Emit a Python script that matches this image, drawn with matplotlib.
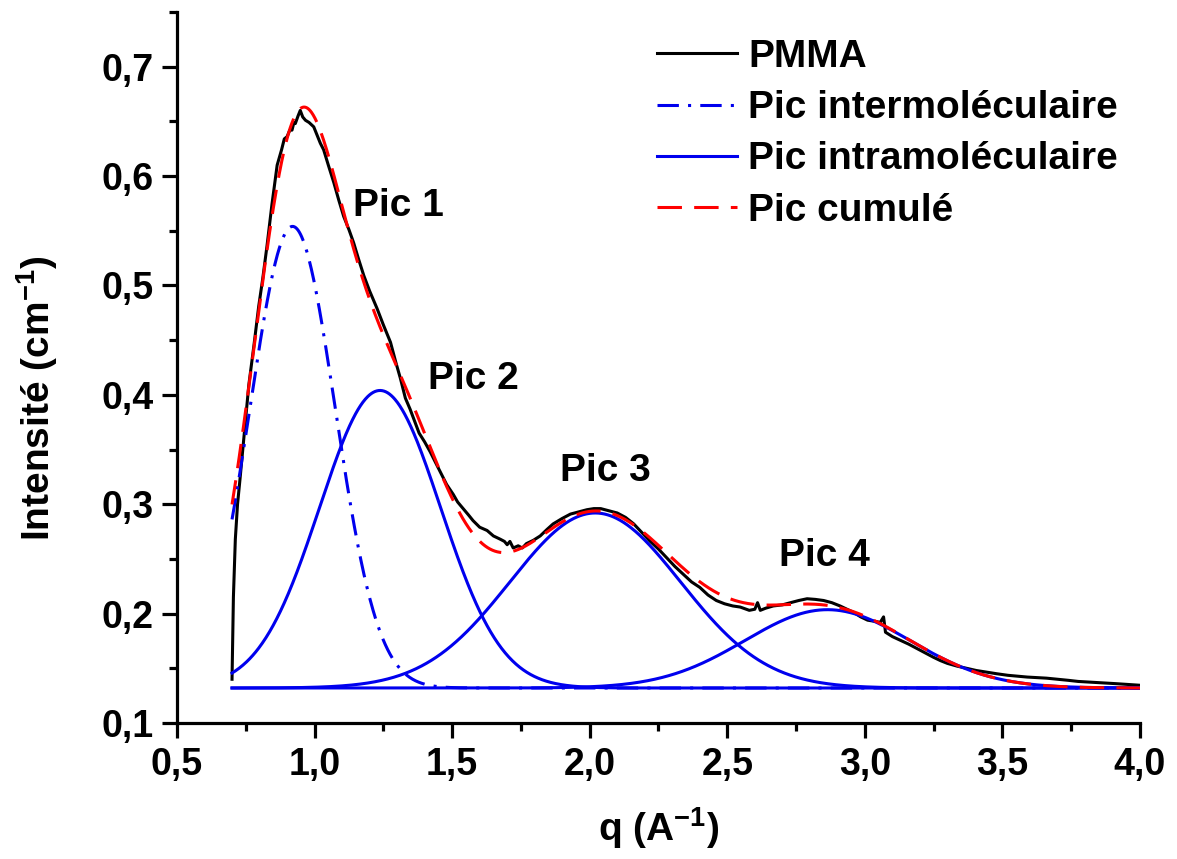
import numpy as np
import matplotlib
matplotlib.use("Agg")
import matplotlib.pyplot as plt
from matplotlib.ticker import MultipleLocator, FuncFormatter

plt.rcParams['font.family'] = ['Liberation Sans', 'DejaVu Sans']
plt.rcParams['font.weight'] = 'bold'
plt.rcParams['mathtext.fontset'] = 'custom'
plt.rcParams['mathtext.rm'] = 'Liberation Sans:bold'
plt.rcParams['mathtext.default'] = 'rm'

# ---- Data ----
# PMMA measured curve (q in A^-1, intensity in cm^-1)
pmma_q = [0.700, 0.705, 0.712, 0.720, 0.729, 0.745, 0.761, 0.780, 0.797, 0.812,
          0.827, 0.845, 0.864, 0.880, 0.890, 0.900, 0.910, 0.918, 0.925, 0.930,
          0.940, 0.948, 0.957, 0.967, 0.980, 0.997, 1.010, 1.021, 1.033, 1.050,
          1.070, 1.088, 1.106, 1.125, 1.142, 1.160, 1.179, 1.200, 1.227, 1.250,
          1.276, 1.295, 1.312, 1.330, 1.347, 1.365, 1.380, 1.400, 1.420, 1.440,
          1.456, 1.480, 1.504, 1.520, 1.540, 1.560, 1.576, 1.600, 1.627, 1.650,
          1.675, 1.690, 1.700, 1.710, 1.722, 1.740, 1.755, 1.770, 1.795, 1.820,
          1.845, 1.867, 1.900, 1.930, 1.960, 1.990, 2.015, 2.040, 2.070, 2.100,
          2.130, 2.160, 2.190, 2.220, 2.250, 2.280, 2.310, 2.340, 2.370, 2.400,
          2.430, 2.460, 2.490, 2.520, 2.547, 2.580, 2.600, 2.610, 2.620, 2.640,
          2.667, 2.700, 2.730, 2.760, 2.790, 2.820, 2.850, 2.880, 2.910, 2.935,
          2.960, 2.985, 3.010, 3.035, 3.056, 3.068, 3.075, 3.100, 3.130, 3.160,
          3.190, 3.220, 3.250, 3.275, 3.300, 3.335, 3.370, 3.405, 3.445, 3.480,
          3.520, 3.555, 3.590, 3.625, 3.660, 3.700, 3.740, 3.775, 3.810, 3.850,
          3.880, 3.910, 3.940, 3.970, 4.000]
pmma_i = [0.140, 0.215, 0.268, 0.300, 0.323, 0.366, 0.409, 0.446, 0.481, 0.507,
          0.536, 0.574, 0.610, 0.624, 0.634, 0.636, 0.642, 0.642, 0.649, 0.648,
          0.655, 0.660, 0.654, 0.651, 0.649, 0.645, 0.637, 0.630, 0.624, 0.610,
          0.594, 0.578, 0.563, 0.551, 0.539, 0.524, 0.509, 0.495, 0.479, 0.464,
          0.448, 0.430, 0.415, 0.397, 0.387, 0.375, 0.365, 0.357, 0.348, 0.338,
          0.330, 0.318, 0.309, 0.302, 0.296, 0.290, 0.285, 0.279, 0.276, 0.271,
          0.268, 0.266, 0.263, 0.266, 0.260, 0.262, 0.260, 0.264, 0.267, 0.271,
          0.277, 0.282, 0.287, 0.291, 0.293, 0.295, 0.296, 0.296, 0.294, 0.292,
          0.288, 0.282, 0.274, 0.266, 0.259, 0.251, 0.243, 0.236, 0.229, 0.224,
          0.217, 0.212, 0.209, 0.207, 0.206, 0.203, 0.204, 0.210, 0.203, 0.205,
          0.207, 0.208, 0.210, 0.212, 0.2136, 0.213, 0.212, 0.210, 0.207, 0.204,
          0.201, 0.197, 0.194, 0.193, 0.192, 0.197, 0.183, 0.179, 0.1755, 0.172,
          0.168, 0.164, 0.160, 0.157, 0.1545, 0.152, 0.150, 0.148, 0.1464, 0.145,
          0.1436, 0.1428, 0.142, 0.1415, 0.141, 0.140, 0.139, 0.138, 0.1375, 0.137,
          0.1364, 0.136, 0.1355, 0.135, 0.1345]

# Fitted peaks (Gaussian components)
baseline = 0.132
peak_names = ["Pic 1", "Pic 2", "Pic 3", "Pic 4"]
peak_centers = [0.920, 1.238, 2.02, 2.864]
peak_heights = [0.422, 0.272, 0.160, 0.0716]   # above baseline
peak_widths = [0.155, 0.220, 0.310, 0.300]     # Gaussian sigma
fit_range = [0.70, 4.00]

# Peak label positions (q, intensity of text baseline)
label_q = [1.304, 1.576, 2.056, 2.853]
label_i = [0.5636, 0.405, 0.321, 0.2436]

legend_labels = ["PMMA", "Pic intermoléculaire", "Pic intramoléculaire", "Pic cumulé"]

# ---- Figure ----
fig = plt.figure(figsize=(11.77, 8.59), dpi=100)
ax = fig.add_axes([177/1177, 1 - 723/859, 963/1177, 711/859])

q = np.linspace(fit_range[0], fit_range[1], 1500)
comps = [h * np.exp(-(q - c) ** 2 / (2 * s ** 2))
         for c, h, s in zip(peak_centers, peak_heights, peak_widths)]
cumul = baseline + np.sum(comps, axis=0)

l_pmma, = ax.plot(pmma_q, pmma_i, color='black', lw=2.2, zorder=2)
l_inter, = ax.plot(q, baseline + comps[0], color='#0000ee', lw=2.2,
                   linestyle=(0, (7, 3, 1, 3)), zorder=3)
l_intra = None
for comp in comps[1:]:
    l_intra, = ax.plot(q, baseline + comp, color='#0000ee', lw=2.2, zorder=3)
l_cum, = ax.plot(q, cumul, color='#ff0000', lw=2.2, linestyle=(0, (8, 4)), zorder=4)

for name, lq, li in zip(peak_names, label_q, label_i):
    ax.text(lq, li, name, ha='center', va='baseline', fontsize=28, fontweight='bold')

ax.set_xlim(0.5, 4.0)
ax.set_ylim(0.1, 0.75)
ax.xaxis.set_major_locator(MultipleLocator(0.5))
ax.xaxis.set_minor_locator(MultipleLocator(0.25))
ax.yaxis.set_major_locator(MultipleLocator(0.1))
ax.yaxis.set_minor_locator(MultipleLocator(0.05))
fmt = FuncFormatter(lambda v, p: f"{v:.1f}".replace('.', ','))
ax.xaxis.set_major_formatter(fmt)
ax.yaxis.set_major_formatter(fmt)

for sp in ['top', 'right']:
    ax.spines[sp].set_visible(False)
for sp in ['left', 'bottom']:
    ax.spines[sp].set_linewidth(2.3)
ax.tick_params(which='major', direction='out', length=11, width=2.3, labelsize=27, pad=6)
ax.tick_params(which='minor', direction='out', length=6, width=2.3)
for lab in ax.get_xticklabels() + ax.get_yticklabels():
    lab.set_fontweight('bold')

ax.set_xlabel('q (A$^{-1}$)', fontsize=28, fontweight='bold', labelpad=16)
ax.set_ylabel('Intensité (cm$^{-1}$)', fontsize=28, fontweight='bold')
ax.yaxis.set_label_coords(-0.122, 0.456)

leg = ax.legend([l_pmma, l_inter, l_intra, l_cum], legend_labels,
                loc='upper left', bbox_to_anchor=(0.4984, 0.962),
                frameon=False, fontsize=28, handlelength=2.06, handletextpad=0.28,
                labelspacing=0.39, borderpad=0, borderaxespad=0)
for t in leg.get_texts():
    t.set_fontweight('bold')

fig.savefig('out.png', dpi=100)
